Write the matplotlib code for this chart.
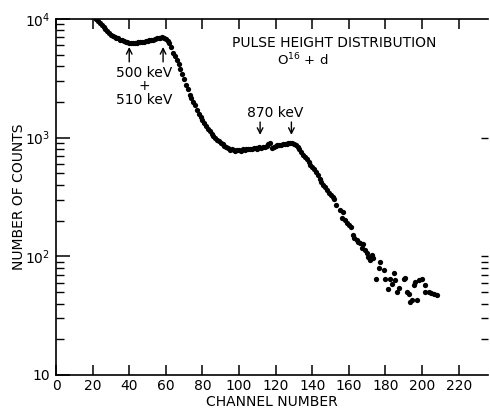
import matplotlib
matplotlib.use("Agg")
import matplotlib.pyplot as plt
from matplotlib.ticker import FixedLocator, FixedFormatter, NullFormatter

# -------------------------------
# Data
# -------------------------------
# dense part, one point per channel (22..150)
channels = list(range(22, 151))
counts = [10000, 9600, 9200, 8900, 8500, 8250, 7900, 7600, 7400, 7200,
          7050, 6950, 6850, 6700, 6600, 6500, 6400, 6350, 6300, 6320,
          6280, 6330, 6300, 6360, 6400, 6420, 6380, 6500, 6560, 6650,
          6700, 6620, 6780, 6880, 6850, 6950, 7050, 6950, 6800, 6550,
          6250, 5800, 5200, 4900, 4500, 4150, 3800, 3450, 3100, 2800,
          2550, 2300, 2150, 2000, 1880, 1720, 1580, 1480, 1400, 1320,
          1250, 1190, 1130, 1080, 1040, 1000, 960, 930, 905, 880,
          850, 830, 815, 790, 800, 785, 775, 790, 780, 770,
          800, 790, 805, 795, 810, 800, 820, 815, 805, 830,
          820, 840, 835, 850, 880, 900, 815, 840, 850, 860,
          870, 865, 880, 890, 885, 905, 900, 895, 880, 860,
          830, 800, 760, 720, 690, 660, 620, 590, 565, 540,
          515, 480, 450, 425, 400, 385, 365, 345, 330]

# scattered tail
tail_channels = [151.2, 151.9, 153.0, 155.1, 156.6, 156.1, 157.9, 158.8, 160.2, 161.0,
                 162.4, 162.8, 164.3, 165.1, 166.1, 167.9, 167.0, 168.8, 169.7, 170.6,
                 172.5, 173.3, 171.5, 177.2, 176.3, 179.0, 174.8, 179.9, 182.6, 185.0,
                 184.5, 183.6, 181.4, 187.2, 186.3, 190.0, 190.8, 191.7, 192.7, 193.6,
                 194.5, 197.2, 195.4, 196.3, 198.1, 199.9, 201.7, 201.4, 203.6, 205.0,
                 206.3, 208.1]
tail_counts = [318, 305, 271, 246, 238, 209, 203, 190, 182, 178,
               151, 144, 137, 133, 129, 126, 117, 113, 106, 99,
               103, 96, 93, 89, 79, 77, 65, 65, 65, 63,
               73, 58, 53, 54, 50, 65, 66, 50, 48, 41.5,
               43, 43, 57, 61, 63, 65, 57, 50, 50, 49,
               48, 47]

x_ticks = list(range(0, 221, 20))
y_ticks = [10, 100, 1000, 10000]
y_tick_labels = ["10", "$10^2$", "$10^3$", "$10^4$"]

# -------------------------------
# Plot
# -------------------------------
fig = plt.figure(figsize=(4.9, 4.08), dpi=100)
ax = fig.add_axes([56 / 490, 33 / 408, 432 / 490, 356 / 408])

ax.plot(channels, counts, "o", color="black", markersize=3.8, markeredgewidth=0)
ax.plot(tail_channels, tail_counts, "o", color="black", markersize=3.8, markeredgewidth=0)

ax.set_yscale("log")
ax.set_xlim(0, 236)
ax.set_ylim(10, 10000)

ax.xaxis.set_major_locator(FixedLocator(x_ticks))
ax.yaxis.set_major_locator(FixedLocator(y_ticks))
ax.yaxis.set_major_formatter(FixedFormatter(y_tick_labels))
ax.yaxis.set_minor_formatter(NullFormatter())

ax.tick_params(axis="x", which="major", direction="in", length=7, width=1.1,
               top=True, bottom=True, labelsize=10, pad=3)
ax.tick_params(axis="y", which="major", direction="in", length=10, width=1.1,
               left=True, right=False, labelsize=10, pad=4)
ax.tick_params(axis="y", which="minor", direction="in", length=6, width=1.0,
               left=True, right=False)

ax.spines["right"].set_visible(False)
for s in ["left", "bottom", "top"]:
    ax.spines[s].set_linewidth(1.2)

# partial ticks on the right edge of the scan
ax2 = ax.twinx()
ax2.set_yscale("log")
ax2.set_ylim(10, 10000)
ax2.yaxis.set_major_locator(FixedLocator([100, 1000]))
ax2.yaxis.set_minor_locator(FixedLocator([20, 30, 40, 50, 60, 70, 80, 90]))
ax2.yaxis.set_major_formatter(NullFormatter())
ax2.yaxis.set_minor_formatter(NullFormatter())
ax2.tick_params(axis="y", which="both", direction="in", length=5, width=1.0)
for s in ax2.spines.values():
    s.set_visible(False)

ax.set_xlabel("CHANNEL NUMBER", fontsize=10, labelpad=1)
ax.set_ylabel("NUMBER OF COUNTS", fontsize=10, labelpad=-1)

# annotations
ax.text(152, 6290, "PULSE HEIGHT DISTRIBUTION", fontsize=10, ha="center", va="center")
ax.text(135, 4520, "O$^{16}$ + d", fontsize=9.5, ha="center", va="center")

ax.text(48, 3510, "500 keV", fontsize=10, ha="center", va="center")
ax.text(48, 2730, "+", fontsize=10, ha="center", va="center")
ax.text(48, 2080, "510 keV", fontsize=10, ha="center", va="center")
ax.text(120, 1615, "870 keV", fontsize=10, ha="center", va="center")

arrow = dict(arrowstyle="->", color="black", lw=1.0, shrinkA=0, shrinkB=0)
for xc in [40, 58.5]:
    ax.annotate("", xy=(xc, 5810), xytext=(xc, 4350), arrowprops=arrow)
for xc in [111.5, 128.6]:
    ax.annotate("", xy=(xc, 1055), xytext=(xc, 1355), arrowprops=arrow)

fig.savefig("out.png", dpi=100)
plt.close(fig)
